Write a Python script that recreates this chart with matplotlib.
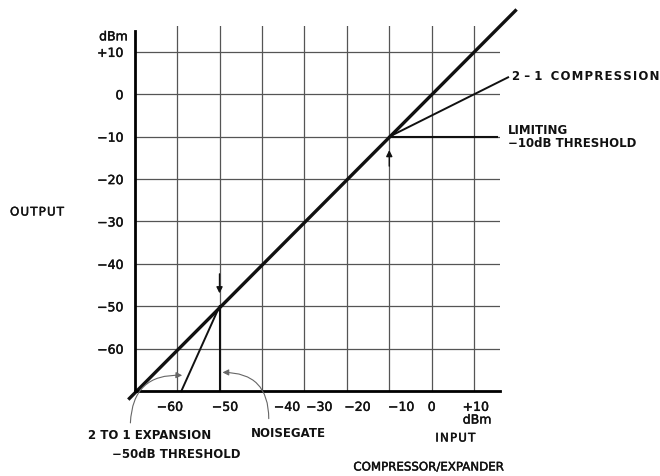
import matplotlib
matplotlib.use("Agg")
import matplotlib.pyplot as plt
import matplotlib.patheffects as pe

plt.rcParams['font.family'] = ['DejaVu Sans']

# ---- data (dBm) ----
grid_ticks = [-60, -50, -40, -30, -20, -10, 0, 10]
y_tick_labels = ['\u221260', '\u221250', '\u221240', '\u221230', '\u221220', '\u221210', '0', '+10']
x_tick_labels = ['\u221260', '\u221250', '\u221240', '\u221230', '\u221220', '\u221210', '0', '+10']
# where the (hand-lettered) x labels actually sit on the input scale
x_label_at = [-61.7, -48.7, -34.1, -26.5, -17.5, -7.2, 0.0, 10.4]

unity_in = [-71.5, 20.0]
unity_out = [-72.0, 20.0]
compression_in = [-10.0, 18.0]
compression_out = [-10.0, 4.0]
limiting_in = [-10.0, 15.5]
limiting_out = [-10.0, -10.0]
expansion_in = [-50.0, -59.0]
expansion_out = [-50.0, -70.0]
gate_in = [-50.0, -50.0]
gate_out = [-50.0, -70.0]


def spaced(s):
    return '\u200a'.join(s)


fig = plt.figure(figsize=(6.6, 4.77), dpi=100)
ax = fig.add_axes([0.204, 0.178, 0.553, 0.7645])
ax.set_xlim(-70, 16)
ax.set_ylim(-70, 16)

for s in ['top', 'right']:
    ax.spines[s].set_visible(False)
ax.spines['left'].set_linewidth(2.0)
ax.spines['bottom'].set_linewidth(2.0)
ax.spines['left'].set_bounds(-70, 15)

thick = [pe.withStroke(linewidth=0.3, foreground='#111111')]
tc = '#111111'

ax.set_xticks(grid_ticks)
ax.set_yticks(grid_ticks)
ax.set_xticklabels([])
ax.set_yticklabels(y_tick_labels, fontsize=9, color=tc)
for t in ax.get_yticklabels():
    t.set_path_effects(thick)
ax.tick_params(length=0, pad=8)
ax.grid(True, color='#555555', linewidth=0.9)
ax.set_axisbelow(True)

for xl, lab in zip(x_label_at, x_tick_labels):
    ax.text(xl, -72.3, lab, ha='center', va='top', fontsize=9, color=tc,
            clip_on=False, path_effects=thick)
ax.text(x_label_at[-1] + 0.3, -75.3, 'dBm', ha='center', va='top', fontsize=9, color=tc,
        clip_on=False, path_effects=thick)
ax.text(-71.6, 12.0, 'dBm', ha='right', va='bottom', fontsize=9, color=tc,
        clip_on=False, path_effects=thick)

lc = '#111111'
ax.plot(unity_in, unity_out, color=lc, lw=2.4, clip_on=False, solid_capstyle='butt')
ax.plot(compression_in, compression_out, color=lc, lw=1.4, clip_on=False)
ax.plot(limiting_in, limiting_out, color=lc, lw=1.5, clip_on=False)
ax.plot(expansion_in, expansion_out, color=lc, lw=1.4, clip_on=False)
ax.plot(gate_in, gate_out, color=lc, lw=1.5, clip_on=False)

# threshold arrows
ax.annotate('', xy=(-50, -47.6), xytext=(-50, -41.7),
            arrowprops=dict(arrowstyle='-|>', color=lc, lw=1.0, mutation_scale=9))
ax.annotate('', xy=(-10, -12.5), xytext=(-10, -17.6),
            arrowprops=dict(arrowstyle='-|>', color=lc, lw=1.0, mutation_scale=9))

# curved pointer arrows
ax.annotate('', xy=(-58.8, -66.3), xytext=(-71.0, -77.5), xycoords='data',
            arrowprops=dict(arrowstyle='-|>', color='#666666', lw=0.8, mutation_scale=9,
                            connectionstyle='arc3,rad=-0.5', shrinkA=0, shrinkB=0),
            annotation_clip=False)
ax.annotate('', xy=(-49.3, -65.6), xytext=(-38.4, -76.5), xycoords='data',
            arrowprops=dict(arrowstyle='-|>', color='#666666', lw=0.8, mutation_scale=9,
                            connectionstyle='arc3,rad=0.5', shrinkA=0, shrinkB=0),
            annotation_clip=False)

# labels (figure coords, pixels from top-left)
W, H = 660.0, 477.0
def ftext(px, py, s, ha='left', **kw):
    fig.text(px / W, 1 - py / H, s, ha=ha, va='center', color=tc, **kw)

ftext(10, 213, spaced('OUTPUT'), fontsize=8.5, path_effects=thick)
ftext(512, 76, '2 \u2013 1  ' + spaced('COMPRESSION'), fontsize=8.5, fontweight='bold')
ftext(508, 131, 'LIMITING', fontsize=8.5, fontweight='bold')
ftext(508, 144, '\u221210dB THRESHOLD', fontsize=8.5, fontweight='bold')
ftext(150, 436, '2 TO 1 EXPANSION', ha='center', fontsize=8.5, fontweight='bold')
ftext(176, 455, '\u221250dB THRESHOLD', ha='center', fontsize=8.5, fontweight='bold')
ftext(288, 434, 'NOISEGATE', ha='center', fontsize=8.5, fontweight='bold')
ftext(455, 439, spaced('INPUT'), ha='center', fontsize=8.5, path_effects=thick)
ftext(428, 468, 'COMPRESSOR/EXPANDER', ha='center', fontsize=8.5, path_effects=thick)

fig.savefig('out.png', dpi=100, facecolor='white')
